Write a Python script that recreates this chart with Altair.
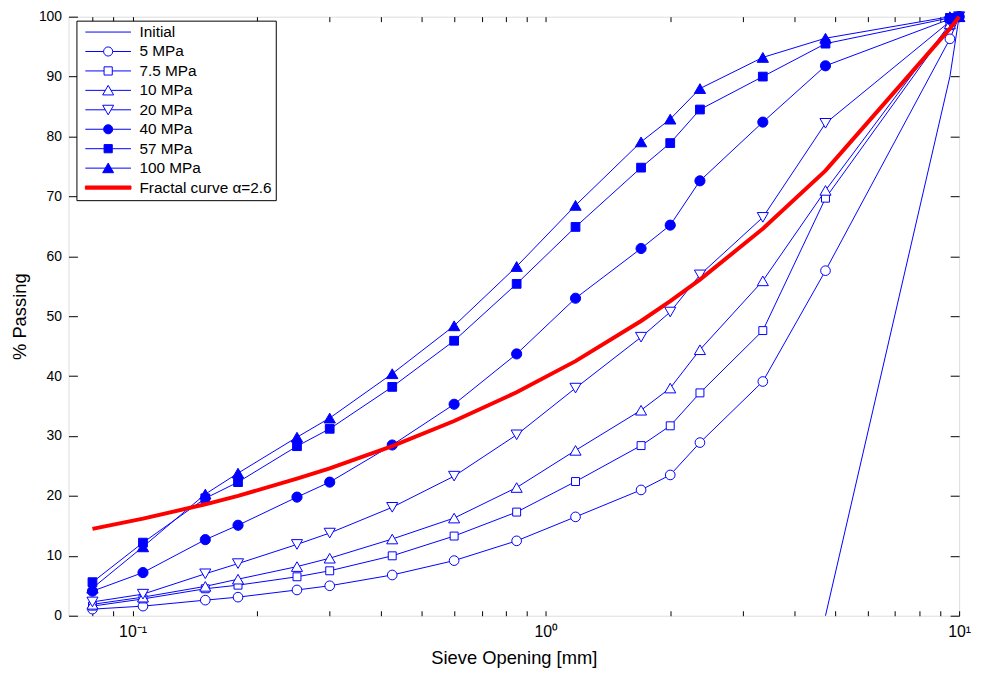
import altair as alt
import pandas as pd

# ---------------- data ----------------
sieve_mm = [0.08, 0.106, 0.15, 0.18, 0.25, 0.3, 0.425, 0.6, 0.85, 1.18,
            1.7, 2.0, 2.36, 3.35, 4.75, 9.5, 10]

pass_5 = [1.1, 1.6, 2.6, 3.1, 4.3, 5.0, 6.8, 9.2, 12.5, 16.5, 21.0, 23.5, 28.9, 39.1, 57.6, 96.3, 100]
pass_7_5 = [1.6, 2.8, 4.5, 5.1, 6.5, 7.5, 10.0, 13.3, 17.3, 22.4, 28.4, 31.7, 37.2, 47.6, 69.7, 98.5, 100]
pass_10 = [1.9, 3.1, 4.9, 6.1, 8.2, 9.6, 12.8, 16.3, 21.4, 27.6, 34.3, 38.0, 44.4, 55.9, 71.0, 98.8, 100]
pass_20 = [2.3, 3.6, 7.0, 8.7, 11.9, 13.8, 18.1, 23.3, 30.2, 38.0, 46.5, 50.7, 56.9, 66.5, 82.2, 99.2, 100]
pass_40 = [4.1, 7.2, 12.7, 15.1, 19.8, 22.3, 28.5, 35.3, 43.7, 53.0, 61.3, 65.2, 72.6, 82.4, 91.8, 99.6, 100]
pass_57 = [5.6, 12.2, 19.6, 22.3, 28.3, 31.2, 38.2, 45.9, 55.4, 64.9, 74.8, 78.9, 84.5, 90.0, 95.5, 99.8, 100]
pass_100 = [4.6, 11.5, 20.3, 23.8, 29.8, 33.0, 40.4, 48.4, 58.3, 68.5, 79.1, 82.9, 88.0, 93.2, 96.4, 100, 100]

initial_mm = [4.75, 9.5, 10]
initial_pass = [0, 90, 100]

fractal_pass = [14.5, 16.2, 18.6, 20.0, 22.9, 24.6, 28.3, 32.5, 37.3, 42.5,
                49.2, 52.5, 56.1, 64.6, 74.3, 98.0, 100]

test_names = ["5 MPa", "7.5 MPa", "10 MPa", "20 MPa", "40 MPa", "57 MPa", "100 MPa"]
test_values = [pass_5, pass_7_5, pass_10, pass_20, pass_40, pass_57, pass_100]
legend_names = ["Initial"] + test_names + ["Fractal curve \u03b1=2.6"]

x_tick_values = [0.08, 0.09, 0.1, 0.2, 0.3, 0.4, 0.5, 0.6, 0.7, 0.8, 0.9,
                 1, 2, 3, 4, 5, 6, 7, 8, 9, 10]
x_label_values = [0.1, 1, 10]
y_tick_values = [0, 10, 20, 30, 40, 50, 60, 70, 80, 90, 100]

# ---------------- styling ----------------
BLUE = "#0000FF"
RED = "#FF0000"
FONT = "Liberation Sans"
W, H = 898, 604

marker_shape = ["circle", "square", "triangle-up", "triangle-down", "circle", "square", "triangle-up"]
marker_fill = ["white", "white", "white", "white", BLUE, BLUE, BLUE]
marker_size = [95, 64, 125, 125, 105, 78, 130]

# legend symbols: line with marker (unit box -1..1)
leg_paths = [
    "M-1,0H1",
    "M-1,0H-0.2M0.2,0H1M0.2,0A0.2,0.2,0,1,1,-0.2,0A0.2,0.2,0,1,1,0.2,0Z",
    "M-1,0H-0.18M0.18,0H1M-0.18,-0.18H0.18V0.18H-0.18Z",
    "M-1,0H-0.13M0.13,0H1M0,-0.22L0.24,0.2L-0.24,0.2Z",
    "M-1,0H-0.13M0.13,0H1M0,0.22L0.24,-0.2L-0.24,-0.2Z",
    "M-1,0H-0.2M0.2,0H1M0.2,0A0.2,0.2,0,1,1,-0.2,0A0.2,0.2,0,1,1,0.2,0Z",
    "M-1,0H-0.18M0.18,0H1M-0.18,-0.18H0.18V0.18H-0.18Z",
    "M-1,0H-0.13M0.13,0H1M0,-0.22L0.24,0.2L-0.24,0.2Z",
    "M-1,-0.07H1V0.07H-1Z",
]
leg_fill = [BLUE, "white", "white", "white", "white", BLUE, BLUE, BLUE, RED]
leg_stroke = [BLUE] * 8 + [RED]

# ---------------- tables ----------------
rows = []
for name, vals in zip(test_names, test_values):
    for d, p in zip(sieve_mm, vals):
        rows.append({"d": d, "p": p, "series": name})
tests_df = pd.DataFrame(rows)
initial_df = pd.DataFrame({"d": initial_mm, "p": initial_pass, "series": "Initial"})
fractal_df = pd.DataFrame({"d": sieve_mm, "p": fractal_pass, "series": legend_names[-1]})
legend_df = pd.DataFrame({"series": legend_names})

xs = alt.Scale(type="log", domain=[0.07, 10], nice=False)
ys = alt.Scale(domain=[0, 100], nice=False, zero=False)

tick_common = dict(labels=False, domain=False, grid=False, ticks=True,
                   tickColor="black", tickWidth=1, title=None)

# main axes (labels + titles)
lines = alt.Chart(tests_df).mark_line(color=BLUE, strokeWidth=1).encode(
    x=alt.X("d:Q", scale=xs, axis=alt.Axis(
        orient="bottom", values=x_label_values,
        labelExpr="datum.value < 0.5 ? '10\u207b\u00b9' : (datum.value < 5 ? '10\u2070' : '10\u00b9')",
        ticks=False, domain=False, grid=False, labelFont=FONT, labelFontSize=16,
        labelColor="black", labelPadding=8, labelFlush=False,
        title="Sieve Opening [mm]", titleFont=FONT, titleFontSize=18.5,
        titleFontWeight="normal", titleColor="black", titlePadding=9)),
    y=alt.Y("p:Q", scale=ys, axis=alt.Axis(
        orient="left", values=y_tick_values, ticks=False, domain=False, grid=False,
        labelFont=FONT, labelFontSize=14, labelColor="black", labelPadding=7,
        labelFlush=False,
        title="% Passing", titleFont=FONT, titleFontSize=18.5, titleFontWeight="normal",
        titleColor="black", titlePadding=9)),
    detail="series:N",
)

# inward ticks: bottom and left
initial_line = alt.Chart(initial_df).mark_line(color=BLUE, strokeWidth=1).encode(
    x=alt.X("d:Q", scale=xs, axis=alt.Axis(orient="top", offset=-H, values=x_tick_values,
                                           tickSize=5, **tick_common)),
    y=alt.Y("p:Q", scale=ys, axis=alt.Axis(orient="right", offset=-W, values=y_tick_values,
                                           tickSize=9, **tick_common)),
)

# inward ticks: top and right
fractal = alt.Chart(fractal_df).mark_line(color=RED, strokeWidth=4).encode(
    x=alt.X("d:Q", scale=xs, axis=alt.Axis(orient="bottom", offset=-H, values=x_tick_values,
                                           tickSize=5, **tick_common)),
    y=alt.Y("p:Q", scale=ys, axis=alt.Axis(orient="left", offset=-W, values=y_tick_values,
                                           tickSize=9, **tick_common)),
)

point_layers = []
for name, shp, fil, sz in zip(test_names, marker_shape, marker_fill, marker_size):
    point_layers.append(
        alt.Chart(tests_df).transform_filter(alt.datum.series == name).mark_point(
            shape=shp, size=sz, fill=fil, stroke=BLUE, strokeWidth=1, opacity=1, filled=False
        ).encode(
            x=alt.X("d:Q", scale=xs, axis=None),
            y=alt.Y("p:Q", scale=ys, axis=None),
        )
    )

leg = alt.Legend(title=None, orient="none", legendX=8, legendY=4,
                 symbolSize=2116, symbolStrokeWidth=1, symbolOffset=4.5,
                 labelOffset=8, labelFont=FONT, labelFontSize=15.5, labelColor="black",
                 clipHeight=15, rowPadding=3.6, padding=4,
                 strokeColor="black", fillColor="white", labelLimit=300)

legend_layer = alt.Chart(legend_df).transform_filter("false").mark_point(
    opacity=1, strokeWidth=1
).encode(
    fill=alt.Fill("series:N", scale=alt.Scale(domain=legend_names, range=leg_fill), legend=leg),
    stroke=alt.Stroke("series:N", scale=alt.Scale(domain=legend_names, range=leg_stroke), legend=leg),
    shape=alt.Shape("series:N", scale=alt.Scale(domain=legend_names, range=leg_paths), legend=leg),
)

chart = alt.layer(
    lines, initial_line, *point_layers, fractal, legend_layer
).resolve_axis(
    x="independent", y="independent"
).properties(
    width=W, height=H,
    autosize=alt.AutoSizeParams(type="none"),
    padding={"left": 61, "top": 6, "right": 14, "bottom": 55},
).configure_view(
    stroke="black", strokeWidth=1
).configure(
    font=FONT
)

chart.save("out.html", embed_options={"renderer": "svg", "actions": False})
